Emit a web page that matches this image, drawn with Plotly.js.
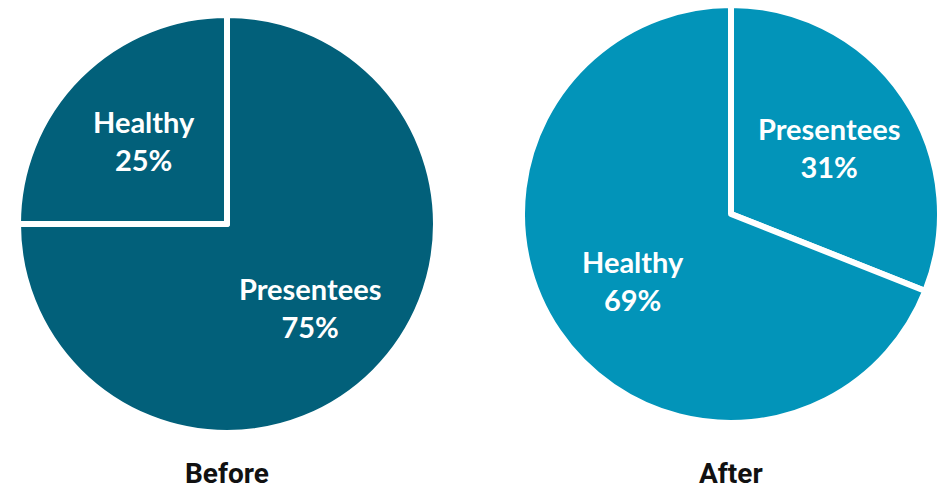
<!DOCTYPE html>
<html>
<head>
<meta charset="utf-8">
<script src="https://cdn.plot.ly/plotly-3.0.1.min.js"></script>
<style>
  html, body { margin: 0; padding: 0; background: #ffffff; }
  #chart { width: 941px; height: 491px; }
</style>
</head>
<body>
<div id="chart"></div>
<script>
// Share of employees before and after the programme
const categories = ['Presentees', 'Healthy'];
const beforeValues = [75, 25];
const afterValues = [31, 69];
const panelTitles = ['Before', 'After'];

const W = 941, H = 491;

// pie box in pixels: [centerX, centerY, radius]
const boxes = [
  [227, 224, 209],
  [731, 214, 209]
];
// labels sit on each slice's bisector, at this fraction of the radius
const LABEL_R = 0.565;

function domainFor(b) {
  const [cx, cy, r] = b;
  return {
    x: [(cx - r) / W, (cx + r) / W],
    y: [1 - (cy + r) / H, 1 - (cy - r) / H]
  };
}

function pieTrace(values, color, box) {
  return {
    type: 'pie',
    labels: categories,
    values: values,
    sort: false,
    direction: 'clockwise',
    rotation: 0,
    domain: domainFor(box),
    marker: { colors: [color, color], line: { color: '#ffffff', width: 6 } },
    textinfo: 'none',
    hoverinfo: 'label+percent',
    showlegend: false
  };
}

// slice labels: name and share, placed at the middle angle of each slice
function sliceLabels(values, box) {
  const [cx, cy, r] = box;
  const total = values.reduce((a, b) => a + b, 0);
  let cum = 0;
  return values.map((v, i) => {
    const mid = (cum + v / 2) / total * 2 * Math.PI; // clockwise from 12 o'clock
    cum += v;
    const px = cx + LABEL_R * r * Math.sin(mid);
    const py = cy - LABEL_R * r * Math.cos(mid);
    return {
      text: categories[i] + '<br>' + Math.round(v / total * 100) + '%',
      x: px / W, y: 1 - py / H,
      xref: 'paper', yref: 'paper',
      xanchor: 'center', yanchor: 'middle',
      showarrow: false,
      font: { family: 'Lato, "Open Sans", sans-serif', size: 29, color: '#ffffff', weight: 700 }
    };
  });
}

const data = [
  pieTrace(beforeValues, '#02607A', boxes[0]),
  pieTrace(afterValues, '#0294B9', boxes[1])
];

const titleNotes = panelTitles.map((t, i) => ({
  text: '<b>' + t + '</b>',
  x: boxes[i][0] / W,
  y: 0,
  xref: 'paper', yref: 'paper',
  xanchor: 'center', yanchor: 'bottom',
  borderpad: 0,
  showarrow: false,
  font: { family: 'Roboto, sans-serif', size: 28, color: '#111111' }
}));

const layout = {
  width: W,
  height: H,
  margin: { l: 0, r: 0, t: 0, b: 0 },
  paper_bgcolor: '#ffffff',
  annotations: [
    ...sliceLabels(beforeValues, boxes[0]),
    ...sliceLabels(afterValues, boxes[1]),
    ...titleNotes
  ]
};

Plotly.newPlot('chart', data, layout, { displayModeBar: false, staticPlot: true });
</script>
</body>
</html>
